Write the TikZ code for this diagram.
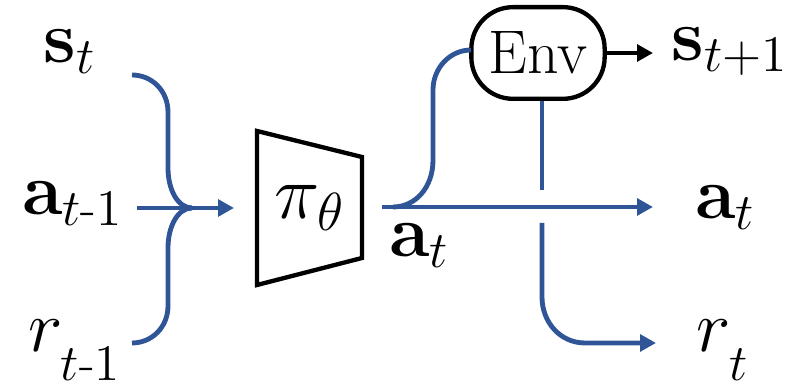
\documentclass[tikz,border=0pt]{standalone}
\usepackage{fix-cm}
\usepackage{amsmath}
\usetikzlibrary{arrows.meta,calc}
\definecolor{flow}{RGB}{47,85,151}
\newcommand{\lowsub}[1]{\raisebox{-0.25em}{$\scriptstyle #1$}}
\begin{document}
\begin{tikzpicture}[x=0.3pt,y=-0.3pt,
  lbl/.style={inner sep=0pt,font=\fontsize{22}{26}\selectfont},
  bluel/.style={draw=flow,line width=1.45pt},
  bluearrow/.style={bluel,-{Triangle[length=4.8pt,width=5pt]}},
  blackarrow/.style={draw=black,line width=1.3pt,-{Triangle[length=4.8pt,width=5pt]}},
  envbox/.style={draw,line width=1.3pt,rounded corners=12.5pt,minimum width=40pt,minimum height=27.5pt,inner sep=0pt,font=\fontsize{18.5}{22}\selectfont},
  trap/.style={draw,line width=1.3pt,line join=miter}]
\useasboundingbox (0,0) rectangle (797,390);
% input labels
\node[lbl] (st) at (70,52) {$\mathbf{s}_t$};
\node[lbl] (am1) at (73,204) {$\mathbf{a}_{t\text{-}1}$};
\node[lbl] (rm1) at (75,350) {$r_{\lowsub{t\text{-}1}}$};
% policy
\coordinate (p1) at (257,131);
\coordinate (p2) at (362,157);
\coordinate (p3) at (362,258);
\coordinate (p4) at (257,285);
\draw[trap] (p1) -- (p2) -- (p3) -- (p4) -- cycle;
\node[inner sep=0pt,font=\fontsize{23}{27}\selectfont] (pi) at (310,208) {$\pi_\theta$};
% environment
\node[envbox] (env) at (538,53) {Env};
% output labels
\node[lbl] (st1) at (730,52) {$\mathbf{s}_{t+1}$};
\node[lbl] (at) at (725,208) {$\mathbf{a}_t$};
\node[lbl] (rt) at (723,350) {$r_{\lowsub{t}}$};
\node[lbl] (atb) at (419,246) {$\mathbf{a}_t$};
% coordinates
\coordinate (sS) at (132,75);
\coordinate (rS) at (132,343);
\coordinate (aS) at (137,208);
\coordinate (join) at (192,208);
\coordinate (inT) at (234,208);
\coordinate (oS) at (382,207);
\coordinate (oE) at (653,207);
\coordinate (envL) at (471,50);
\coordinate (gapT) at (542,190);
\coordinate (gapB) at (542,223);
\coordinate (rE) at (656,343);
% input brace
\draw[bluel] (sS) .. controls (152,75) and (168,91) .. (168,112) -- (168,168) .. controls (168,190) and (178,208) .. (join);
\draw[bluel] (rS) .. controls (152,343) and (168,327) .. (168,306) -- (168,248) .. controls (168,226) and (178,208) .. (join);
\draw[bluearrow] (aS) -- (inT);
% outputs
\draw[bluearrow] (oS) -- (oE);
\draw[bluel] (393,207) .. controls (415,207) and (433,188) .. (433,160) -- (433,90) .. controls (433,68) and (450,50) .. (envL);
\draw[bluel] (env.south -| gapT) -- (gapT);
\draw[bluearrow] (gapB) -- (542,297) .. controls (542,322) and (560,343) .. (585,343) -- (rE);
\draw[blackarrow] (env.east) -- (653,53);
\end{tikzpicture}
\end{document}
